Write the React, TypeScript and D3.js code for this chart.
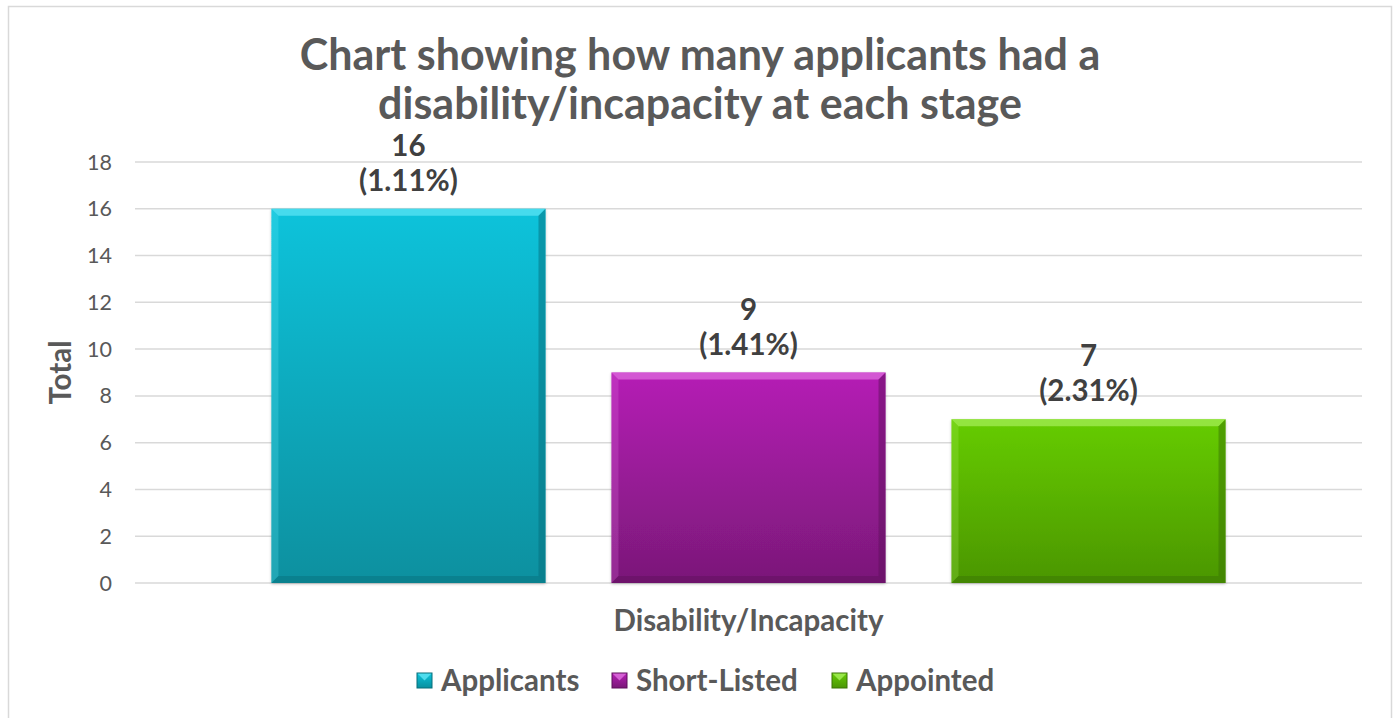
import React from "react";
import * as d3 from "d3";

const categories = ["Disability/Incapacity"];
const seriesNames = ["Applicants", "Short-Listed", "Appointed"];
const seriesValues = [16, 9, 7];
const seriesPercents = ["1.11%", "1.41%", "2.31%"];
const yTicks = [0, 2, 4, 6, 8, 10, 12, 14, 16, 18];
const titleLines = ["Chart showing how many applicants had a", "disability/incapacity at each stage"];

const palette = [
  { top: "#0cc3db", bottom: "#08909f", light: "#5fe6f5", dark: "#066e7b" },
  { top: "#b51fb5", bottom: "#7a1878", light: "#e070e0", dark: "#5e0f5c" },
  { top: "#66cc06", bottom: "#4b9606", light: "#a6f05a", dark: "#3a7404" },
];

const W = 1396;
const H = 718;
const plot = { left: 135, right: 1362, top: 162, bottom: 583 };
const FONT = "Lato, 'Open Sans', sans-serif";

export default function App() {
  const y = d3.scaleLinear().domain([0, 18]).range([plot.bottom, plot.top]);
  const x0 = d3
    .scaleBand<string>()
    .domain(categories)
    .range([plot.left, plot.right])
    .paddingOuter(0.143)
    .paddingInner(0);
  const x1 = d3
    .scaleBand<string>()
    .domain(seriesNames)
    .range([0, x0.bandwidth()])
    .paddingInner(0.194)
    .paddingOuter(0);
  const bw = x1.bandwidth();
  const bev = 7;

  const legendX = [417, 612, 832];

  return (
    <svg
      width={W}
      height={H}
      style={{ position: "absolute", left: 0, top: 0, background: "#fff" }}
      fontFamily={FONT}
    >
      <defs>
        {palette.map((p, i) => (
          <linearGradient key={i} id={`g${i}`} x1="0" y1="0" x2="0" y2="1">
            <stop offset="0" stopColor={p.top} />
            <stop offset="1" stopColor={p.bottom} />
          </linearGradient>
        ))}
        <filter id="shadow" x="-5%" y="-5%" width="110%" height="110%">
          <feGaussianBlur in="SourceAlpha" stdDeviation="1.5" />
          <feOffset dx="0" dy="1" />
          <feComponentTransfer>
            <feFuncA type="linear" slope="0.25" />
          </feComponentTransfer>
          <feMerge>
            <feMergeNode />
            <feMergeNode in="SourceGraphic" />
          </feMerge>
        </filter>
      </defs>
      <rect x={8.5} y={6.5} width={1383} height={730} fill="#fff" stroke="#d9d9d9" strokeWidth={1.5} />

      {titleLines.map((t, i) => (
        <text
          key={i}
          x={700}
          y={70 + i * 49}
          textAnchor="middle"
          fontSize={43}
          fontWeight={700}
          fill="#595959"
        >
          {t}
        </text>
      ))}

      {yTicks.map((t) => (
        <g key={t}>
          <line x1={plot.left} x2={plot.right} y1={y(t)} y2={y(t)} stroke="#d9d9d9" strokeWidth={1.5} />
          <text x={112} y={y(t)} dy="0.35em" textAnchor="end" fontSize={21.5} fill="#595959">
            {t}
          </text>
        </g>
      ))}

      <text
        transform={`translate(71,${(plot.top + plot.bottom) / 2}) rotate(-90)`}
        textAnchor="middle"
        fontSize={29.5}
        fontWeight={700}
        fill="#595959"
      >
        Total
      </text>

      {categories.map((c) => (
        <g key={c}>
          {seriesNames.map((s, i) => {
            const bx = (x0(c) ?? 0) + (x1(s) ?? 0);
            const by = y(seriesValues[i]);
            const bh = y(0) - by;
            const p = palette[i];
            return (
              <g key={s}>
                <g filter="url(#shadow)">
                  <rect x={bx} y={by} width={bw} height={bh} fill={`url(#g${i})`} />
                </g>
                <polygon
                  points={`${bx},${by} ${bx + bw},${by} ${bx + bw - bev},${by + bev} ${bx + bev},${by + bev}`}
                  fill={p.light}
                  opacity={0.7}
                />
                <polygon
                  points={`${bx},${by} ${bx + bev},${by + bev} ${bx + bev},${by + bh - bev} ${bx},${by + bh}`}
                  fill={p.light}
                  opacity={0.25}
                />
                <polygon
                  points={`${bx + bw},${by} ${bx + bw},${by + bh} ${bx + bw - bev},${by + bh - bev} ${bx + bw - bev},${by + bev}`}
                  fill={p.dark}
                  opacity={0.5}
                />
                <polygon
                  points={`${bx},${by + bh} ${bx + bw},${by + bh} ${bx + bw - bev},${by + bh - bev} ${bx + bev},${by + bh - bev}`}
                  fill={p.dark}
                  opacity={0.45}
                />
                <text
                  x={bx + bw / 2}
                  y={by - 53}
                  textAnchor="middle"
                  fontSize={29.5}
                  fontWeight={700}
                  fill="#404040"
                >
                  {seriesValues[i]}
                </text>
                <text
                  x={bx + bw / 2}
                  y={by - 18}
                  textAnchor="middle"
                  fontSize={29.5}
                  fontWeight={700}
                  fill="#404040"
                >
                  ({seriesPercents[i]})
                </text>
              </g>
            );
          })}
          <text
            x={((x0(c) ?? 0) + x0.bandwidth() / 2)}
            y={631}
            textAnchor="middle"
            fontSize={29.5}
            fontWeight={700}
            fill="#595959"
          >
            {c}
          </text>
        </g>
      ))}

      {seriesNames.map((s, i) => {
        const p = palette[i];
        const lx = legendX[i];
        const ly = 673;
        const sz = 15;
        return (
          <g key={s}>
            <rect x={lx} y={ly} width={sz} height={sz} fill={`url(#g${i})`} />
            <polygon
              points={`${lx},${ly} ${lx + sz},${ly} ${lx + sz / 2},${ly + sz / 2}`}
              fill={p.light}
              opacity={0.8}
            />
            <rect x={lx} y={ly} width={sz} height={sz} fill="none" stroke={p.dark} strokeWidth={1} />
            <text x={lx + sz + 9} y={ly + sz / 2} dy="0.36em" fontSize={29.5} fontWeight={700} fill="#595959">
              {s}
            </text>
          </g>
        );
      })}
    </svg>
  );
}
